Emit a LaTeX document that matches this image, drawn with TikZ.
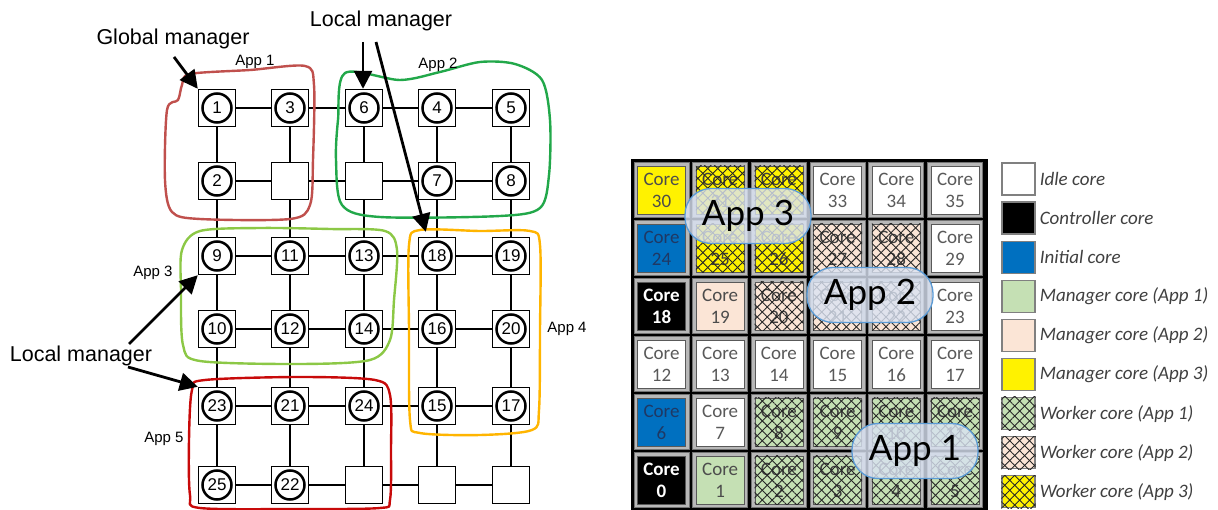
\documentclass[tikz,border=0pt]{standalone}
\usepackage{fontspec}
\setmainfont{Liberation Sans}
\newfontfamily\corefont{Carlito}
\newfontfamily\bubblefont{Lato}
\usetikzlibrary{positioning,arrows.meta,patterns.meta}

\definecolor{appone}{RGB}{192,80,77}
\definecolor{apptwo}{RGB}{34,168,74}
\definecolor{appthree}{RGB}{140,200,70}
\definecolor{appfour}{RGB}{255,181,0}
\definecolor{appfive}{RGB}{200,10,10}
\definecolor{mgrgreen}{RGB}{197,224,180}
\definecolor{mgrpeach}{RGB}{251,229,214}
\definecolor{initblue}{RGB}{0,112,192}
\definecolor{inittext}{RGB}{31,56,100}
\definecolor{bubblefill}{RGB}{218,227,243}
\definecolor{bubbleline}{RGB}{91,155,213}
\definecolor{coretext}{RGB}{89,89,89}

\tikzset{
  tile/.style={draw, line width=1.4pt, fill=white, minimum size=37pt, inner sep=0pt},
  pe/.style={circle, draw, line width=2.5pt, fill=white, minimum size=29pt, inner sep=0pt,
    font=\fontsize{17}{17}\selectfont},
  link/.style={line width=1.3pt},
  pointer/.style={line width=2.8pt, -{Triangle[length=18pt,width=18pt]}},
  applabel/.style={font=\fontsize{15}{15}\selectfont, anchor=base, inner sep=0pt},
  callout/.style={font=\fontsize{21.5}{21.5}\selectfont, anchor=base, inner sep=0pt},
  region/.style={line width=2.4pt, line join=round},
  coreframe/.style={draw=black!55, line width=1pt, fill=black!28, minimum size=55pt, inner sep=0pt},
  core/.style={draw=black!65, line width=0.8pt, minimum size=48pt, inner sep=0pt, align=center,
    text=coretext, font=\corefont\fontsize{19}{22}\selectfont},
  idle/.style={fill=white},
  ctrl/.style={fill=black, text=white, font=\corefont\bfseries\fontsize{19}{22}\selectfont},
  init/.style={fill=initblue, text=inittext},
  mgrA/.style={fill=mgrgreen, text=black!70},
  mgrB/.style={fill=mgrpeach, text=black!70},
  mgrC/.style={fill=yellow, text=black!70},
  wkA/.style={fill=mgrgreen, text=black!75},
  wkB/.style={fill=mgrpeach, text=black!75},
  wkC/.style={fill=yellow, text=black!75},
  hatchup/.style={pattern={Lines[angle=45,distance=7pt,line width=0.9pt]}, pattern color=black!85},
  hatchdown/.style={pattern={Lines[angle=-45,distance=7pt,line width=0.9pt]}, pattern color=black!85},
  key/.style={draw=black!50, line width=1.2pt, minimum width=33pt, minimum height=32pt, inner sep=0pt},
  keytext/.style={inner sep=0pt, text=black!75, font=\corefont\itshape\fontsize{19}{19}\selectfont},
  bubble/.style={draw=bubbleline, line width=1.3pt, fill=bubblefill, fill opacity=0.8, text opacity=1,
    rounded corners=26pt, minimum width=126pt, minimum height=55pt, inner sep=0pt, text=black,
    font=\bubblefont\fontsize{35}{35}\selectfont}
}

\begin{document}
\begin{tikzpicture}[x=1pt,y=-1pt]
\useasboundingbox (0,0) rectangle (1218,510);
\fill[white] (0,0) rectangle (1218,510);

% mesh of routers
\foreach \r/\y in {1/108,2/181,3/256,4/329,5/406,6/485}
  \foreach \c/\x in {1/217,2/290,3/364,4/437,5/511}
    \node[tile] (sq-\r-\c) at (\x,\y) {};
\foreach \r in {1,...,6}
  \foreach \c [count=\cc from 2] in {1,...,4}
    \draw[link] (sq-\r-\c) -- (sq-\r-\cc);
\foreach \r [count=\rr from 2] in {1,...,5}
  \foreach \c in {1,...,5}
    \draw[link] (sq-\r-\c) -- (sq-\rr-\c);
\foreach \r/\c/\num in {1/1/1,1/2/3,1/3/6,1/4/4,1/5/5,2/1/2,2/4/7,2/5/8,
    3/1/9,3/2/11,3/3/13,3/4/18,3/5/19,4/1/10,4/2/12,4/3/14,4/4/16,4/5/20,
    5/1/23,5/2/21,5/3/24,5/4/15,5/5/17,6/1/25,6/2/22}
  \node[pe] (pe-\num) at (sq-\r-\c) {\num};

% application regions
\draw[region,appone] plot[smooth cycle] coordinates {(190,74) (250,70) (305,66) (314,85) (313,160)
  (310,205) (290,219) (200,219) (172,212) (165,180) (167,110) (178,100) (182,85)};
\draw[region,apptwo] plot[smooth cycle] coordinates {(345,73) (400,80) (440,72) (480,62) (515,64)
  (542,80) (550,120) (549,175) (540,208) (500,216) (380,217) (342,205) (336,160) (338,120)};
\draw[region,appthree] plot[smooth cycle] coordinates {(200,231) (260,228) (330,229) (385,231)
  (397,250) (394,300) (390,340) (370,360) (300,364) (200,361) (183,345) (181,290) (182,250)};
\draw[region,appfour] plot[smooth cycle] coordinates {(420,230) (480,231) (530,231) (540,245)
  (540,330) (539,410) (532,430) (480,435) (420,433) (410,420) (409,330) (409,245)};
\draw[region,appfive] plot[smooth cycle] coordinates {(205,380) (300,377) (375,380) (390,395)
  (391,450) (390,500) (380,508) (300,509) (200,508) (190,495) (189,440) (192,390)};

\node[applabel] (lbl-app1) at (255,66) {App 1};
\node[applabel] (lbl-app2) at (438,69) {App 2};
\node[applabel] (lbl-app3) at (153,277) {App 3};
\node[applabel] (lbl-app4) at (567,333) {App 4};
\node[applabel] (lbl-app5) at (164,442) {App 5};

% managers
\node[callout] (lbl-global) at (173,45) {Global manager};
\node[callout] (lbl-local-top) at (381,27) {Local manager};
\node[callout] (lbl-local-left) at (81,362) {Local manager};
\coordinate (gm-tail) at (174,57);
\coordinate (lm-top-a) at (363,42);
\coordinate (lm-top-b) at (376,42);
\coordinate (lm-left-a) at (129,344);
\coordinate (lm-left-b) at (128,367);
\draw[pointer] (gm-tail) -- (sq-1-1.north west);
\draw[pointer] (lm-top-a) -- (lm-top-a |- sq-1-3.north);
\draw[pointer] (lm-top-b) -- ([shift={(8,-5)}]sq-3-4.north west);
\draw[pointer] (lm-left-a) -- (sq-3-1.south west);
\draw[pointer] (lm-left-b) -- (sq-5-1.north west);

% core map
\fill[black] (631,159) rectangle (988,510);
\foreach \n/\kind in {0/ctrl,1/mgrA,2/wkA,3/wkA,4/wkA,5/wkA,
    6/init,7/idle,8/wkA,9/wkA,10/wkA,11/wkA,
    12/idle,13/idle,14/idle,15/idle,16/idle,17/idle,
    18/ctrl,19/mgrB,20/wkB,21/wkB,22/wkB,23/idle,
    24/init,25/wkC,26/wkC,27/wkB,28/wkB,29/idle,
    30/mgrC,31/wkC,32/wkC,33/idle,34/idle,35/idle} {
  \pgfmathsetmacro\cx{661.5+58.7*mod(\n,6)}
  \pgfmathsetmacro\cy{480-58*floor(\n/6)}
  \node[coreframe] (frame-\n) at (\cx,\cy) {};
  \node[core,\kind] (core-\n) at (\cx,\cy) {Core\\\n};
}
\foreach \n in {2,3,4,5,8,9,10,11,20,21,22,25,26,27,28,31,32}
  \path[hatchup, postaction={hatchdown}] (core-\n.south west) rectangle (core-\n.north east);

\node[bubble] (bub-3) at (748,216) {App 3};
\node[bubble] (bub-2) at (870,295) {App 2};
\node[bubble] (bub-1) at (915,451) {App 1};

% legend
\foreach \i/\kind/\txt in {0/idle/Idle core,1/ctrl/Controller core,2/init/Initial core,
    3/mgrA/Manager core (App 1),4/mgrB/Manager core (App 2),5/mgrC/Manager core (App 3),
    6/wkA/Worker core (App 1),7/wkB/Worker core (App 2),8/wkC/Worker core (App 3)} {
  \node[key,\kind] (key-\i) at (1018.5,179+39.1*\i) {};
  \node[keytext, right=4pt of key-\i] (keytext-\i) {\txt};
}
\foreach \i in {6,7,8}
  \path[hatchup, postaction={hatchdown}] (key-\i.south west) rectangle (key-\i.north east);
\end{tikzpicture}
\end{document}
